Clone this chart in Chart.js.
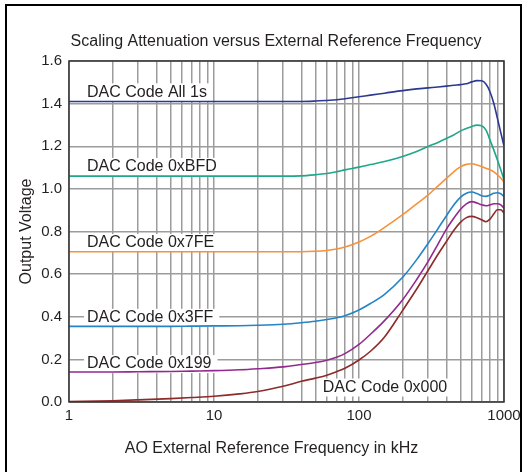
<!DOCTYPE html>
<html>
<head>
<meta charset="utf-8">
<style>
  html, body { margin: 0; padding: 0; background: #fff; overflow: hidden; }
  #frame { position: absolute; left: 5px; top: 4px; width: 513px; height: 520px;
           border: 2px solid #000; border-bottom: none; }
  #c { position: absolute; left: 0; top: 0; }
</style>
<script src="https://cdn.jsdelivr.net/npm/chart.js@4.4.0/dist/chart.umd.min.js"></script>
</head>
<body>
<div id="frame"></div>
<canvas id="c" width="527" height="472"></canvas>
<script>
// data
const freqKHz = [1, 2, 3, 5, 7, 10, 15, 20, 30, 40, 50, 60, 70, 80, 100, 120, 150, 200, 250, 300,
                 350, 400, 450, 500, 550, 600, 650, 700, 750, 800, 850, 900, 950, 1000];

const codeAll1s = [1.41, 1.41, 1.41, 1.41, 1.41, 1.41, 1.41, 1.41, 1.41, 1.41, 1.412, 1.415, 1.418, 1.423, 1.432, 1.44, 1.449, 1.461, 1.469, 1.474,
                   1.478, 1.482, 1.486, 1.489, 1.493, 1.502, 1.508, 1.507, 1.492, 1.456, 1.402, 1.332, 1.264, 1.202];
const code0xBFD = [1.06, 1.06, 1.06, 1.06, 1.06, 1.06, 1.06, 1.06, 1.06, 1.061, 1.066, 1.072, 1.08, 1.089, 1.102, 1.114, 1.128, 1.152, 1.175, 1.199,
                   1.218, 1.236, 1.253, 1.271, 1.283, 1.293, 1.299, 1.296, 1.277, 1.23, 1.183, 1.136, 1.09, 1.043];
const code0x7FE = [0.705, 0.705, 0.705, 0.705, 0.705, 0.705, 0.705, 0.705, 0.705, 0.705, 0.707, 0.711, 0.718, 0.727, 0.751, 0.777, 0.819, 0.879, 0.93, 0.972,
                   1.013, 1.049, 1.08, 1.103, 1.115, 1.118, 1.112, 1.105, 1.097, 1.09, 1.08, 1.066, 1.051, 1.032];
const code0x3FF = [0.355, 0.355, 0.355, 0.355, 0.356, 0.357, 0.358, 0.36, 0.365, 0.372, 0.379, 0.387, 0.395, 0.405, 0.432, 0.462, 0.505, 0.585, 0.668, 0.745,
                   0.813, 0.873, 0.924, 0.96, 0.979, 0.985, 0.978, 0.968, 0.965, 0.971, 0.979, 0.982, 0.977, 0.964];
const code0x199 = [0.141, 0.141, 0.142, 0.143, 0.145, 0.147, 0.151, 0.156, 0.165, 0.176, 0.185, 0.196, 0.21, 0.227, 0.27, 0.318, 0.382, 0.48, 0.575, 0.66,
                   0.74, 0.81, 0.862, 0.903, 0.93, 0.94, 0.934, 0.925, 0.921, 0.925, 0.93, 0.93, 0.925, 0.91];
const code0x000 = [0.002, 0.006, 0.01, 0.016, 0.021, 0.027, 0.038, 0.049, 0.074, 0.097, 0.112, 0.126, 0.142, 0.158, 0.197, 0.238, 0.305, 0.43, 0.53, 0.618,
                   0.692, 0.752, 0.805, 0.843, 0.865, 0.871, 0.865, 0.855, 0.846, 0.858, 0.882, 0.902, 0.902, 0.887];

const xGridTicks = [1,2,3,4,5,6,7,8,9,10,20,30,40,50,60,70,80,90,100,200,300,400,500,600,700,800,900,1000];
const xLabelTicks = [1, 10, 100, 1000];

const seriesNames = ["DAC Code All 1s", "DAC Code 0xBFD", "DAC Code 0x7FE", "DAC Code 0x3FF", "DAC Code 0x199", "DAC Code 0x000"];
const seriesValues = [codeAll1s, code0xBFD, code0x7FE, code0x3FF, code0x199, code0x000];
const seriesColors = ["#2b3990", "#1fa789", "#f7923a", "#2384c6", "#93298e", "#8e2a2a"];

// where the curve names sit (kHz, volts)
const labelSpots = [[1.33, 1.453], [1.33, 1.103], [1.33, 0.746], [1.33, 0.395], [1.33, 0.178], [56.2, 0.068]];

const FONT = "'Liberation Sans', Arial, sans-serif";
const INK = "#231f20";

const curveLabels = {
  id: "curveLabels",
  beforeDatasetsDraw(chart) {
    const { ctx, scales: { x, y } } = chart;
    ctx.save();
    ctx.font = "16px " + FONT;
    ctx.textBaseline = "middle";
    seriesNames.forEach((name, i) => {
      const px = x.getPixelForValue(labelSpots[i][0]);
      const py = y.getPixelForValue(labelSpots[i][1]);
      const w = ctx.measureText(name).width;
      ctx.fillStyle = "#fff";
      ctx.fillRect(px - 3, py - 9, w + 9, 18);
      ctx.fillStyle = INK;
      ctx.fillText(name, px, py);
    });
    ctx.restore();
  },
  afterDatasetsDraw(chart) {
    const { ctx, chartArea: a } = chart;
    ctx.save();
    ctx.strokeStyle = "#333";
    ctx.lineWidth = 1.5;
    ctx.strokeRect(a.left, a.top, a.right - a.left, a.bottom - a.top);
    ctx.restore();
  },
  afterDraw(chart) {
    const { ctx } = chart;
    ctx.save();
    ctx.fillStyle = INK;
    ctx.font = "16px " + FONT;
    ctx.textAlign = "center";
    ctx.textBaseline = "middle";
    ctx.fillText("Scaling Attenuation versus External Reference Frequency", 276, 41.5);
    ctx.fillText("AO External Reference Frequency in kHz", 271.5, 449);
    ctx.restore();
  }
};

new Chart(document.getElementById("c"), {
  type: "line",
  data: {
    datasets: seriesNames.map((name, i) => ({
      label: name,
      data: freqKHz.map((f, j) => ({ x: f, y: seriesValues[i][j] })),
      borderColor: seriesColors[i],
      borderWidth: 1.6,
      pointRadius: 0,
      cubicInterpolationMode: "monotone",
      fill: false
    }))
  },
  options: {
    responsive: false,
    animation: false,
    layout: { padding: { left: 0, top: 61, right: 23, bottom: 0 } },
    plugins: { legend: { display: false }, tooltip: { enabled: false } },
    scales: {
      x: {
        type: "logarithmic", min: 1, max: 1000,
        afterBuildTicks: s => { s.ticks = xGridTicks.map(v => ({ value: v })); },
        afterFit: s => { s.height = 70; },
        grid: { color: "#9c9c9c", lineWidth: 1.5, drawTicks: false },
        border: { display: false },
        ticks: {
          autoSkip: false, maxRotation: 0, padding: 5, color: INK,
          font: { family: FONT, size: 15 },
          callback: v => xLabelTicks.includes(v) ? String(v) : ""
        }
      },
      y: {
        min: 0, max: 1.6,
        afterFit: s => { s.width = 69; },
        grid: { color: "#9c9c9c", lineWidth: 1.5, drawTicks: false },
        border: { display: false },
        ticks: {
          stepSize: 0.2, padding: 7, color: INK,
          font: { family: FONT, size: 15 },
          callback: v => v.toFixed(1)
        },
        title: {
          display: true, text: "Output Voltage", color: INK,
          font: { family: FONT, size: 16 }, padding: { top: 17, bottom: 0 }
        }
      }
    }
  },
  plugins: [curveLabels]
});
</script>
</body>
</html>
